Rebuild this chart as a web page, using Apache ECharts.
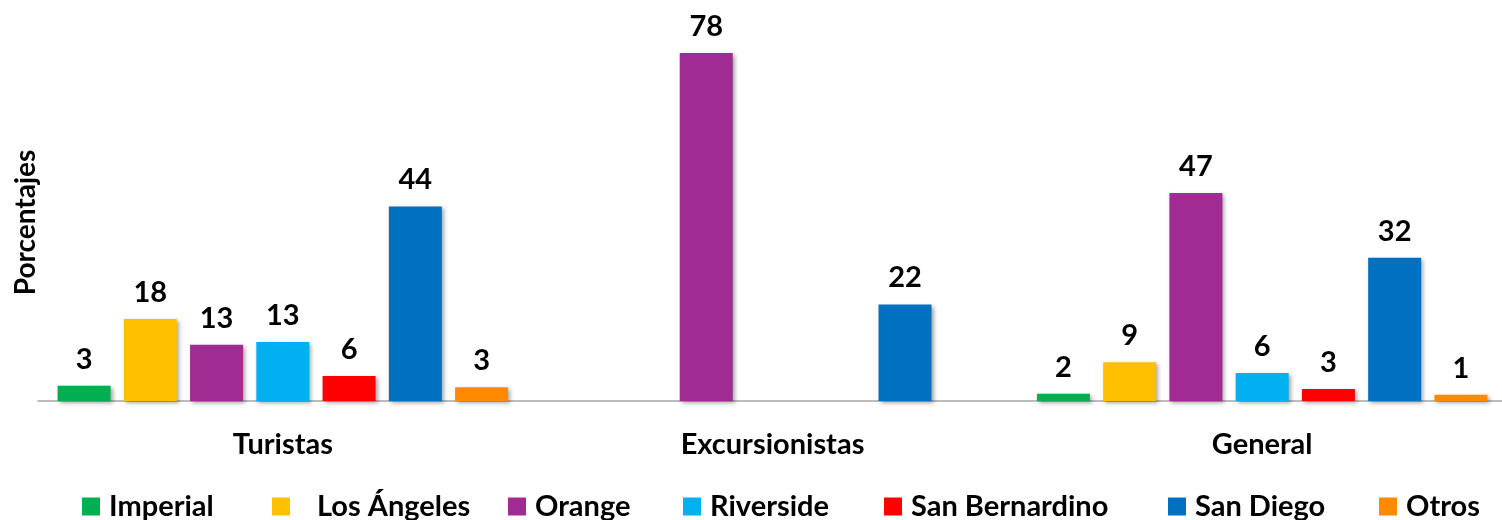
<!DOCTYPE html>
<html>
<head>
<meta charset="utf-8">
<script src="https://cdn.jsdelivr.net/npm/echarts@6/dist/echarts.min.js"></script>
<style>
  html, body { margin: 0; padding: 0; background: #fff; }
  #chart { width: 1502px; height: 520px; }
</style>
</head>
<body>
<div id="chart"></div>
<script>
// categories and series (percentages); '-' = no bar
const categories = ["Turistas", "Excursionistas", "General"];
const seriesNames = ["Imperial", "Los Ángeles", "Orange", "Riverside", "San Bernardino", "San Diego", "Otros"];
const imperial = [3.4, "-", 1.6];
const losAngeles = [18.4, "-", 8.7];
const orange = [12.6, 78, 46.6];
const riverside = [13.2, "-", 6.3];
const sanBernardino = [5.6, "-", 2.7];
const sanDiego = [43.6, 21.6, 32.1];
const otros = [3.1, "-", 1.4];
const colors = ["#00B050", "#FFC000", "#A02B93", "#00B0F0", "#FF0000", "#0070C0", "#FF8A00"];

const values = [imperial, losAngeles, orange, riverside, sanBernardino, sanDiego, otros];

// legend placement (Excel layout is uneven)
const legendLeft = [82, 272, 508, 683, 884, 1168, 1379];
const legendPad = [4, 22, 4, 4, 4, 4, 4];

const FONT = "Lato";
const chart = echarts.init(document.getElementById("chart"));

const series = seriesNames.map((name, i) => ({
  name: name,
  type: "bar",
  data: values[i],
  barWidth: 53,
  barGap: "25%",
  itemStyle: {
    color: colors[i],
    shadowColor: "rgba(0,0,0,0.35)",
    shadowBlur: 4,
    shadowOffsetX: 2,
    shadowOffsetY: 2,
  },
  label: {
    show: true,
    position: "top",
    distance: 12,
    color: "#000",
    fontFamily: FONT,
    fontWeight: "bold",
    fontSize: 29,
    formatter: (p) => Math.round(p.value),
  },
}));

const legends = seriesNames.map((name, i) => ({
  data: [name],
  left: legendLeft[i],
  top: 492,
  padding: 0,
  icon: "rect",
  itemWidth: 18,
  itemHeight: 18,
  selectedMode: false,
  textStyle: {
    color: "#000",
    fontFamily: FONT,
    fontWeight: "bold",
    fontSize: 29,
    padding: [0, 0, 0, legendPad[i]],
  },
}));

chart.setOption({
  animation: false,
  legend: legends,
  grid: { left: 38, width: 1469, top: 44, bottom: 119, outerBoundsMode: "none" },
  xAxis: {
    type: "category",
    data: categories,
    axisTick: { show: false },
    axisLine: { lineStyle: { color: "#A6A6A6", width: 1.5 } },
    axisLabel: {
      margin: 29,
      color: "#000",
      fontFamily: FONT,
      fontWeight: "bold",
      fontSize: 29,
    },
  },
  yAxis: {
    type: "value",
    min: 0,
    max: 80,
    axisLine: { show: false },
    axisTick: { show: false },
    axisLabel: { show: false },
    splitLine: { show: false },
    name: "Porcentajes",
    nameLocation: "middle",
    nameRotate: 90,
    nameGap: -2,
    nameTextStyle: {
      color: "#000",
      fontFamily: FONT,
      fontWeight: "bold",
      fontSize: 28,
    },
  },
  series: series,
});
</script>
</body>
</html>
